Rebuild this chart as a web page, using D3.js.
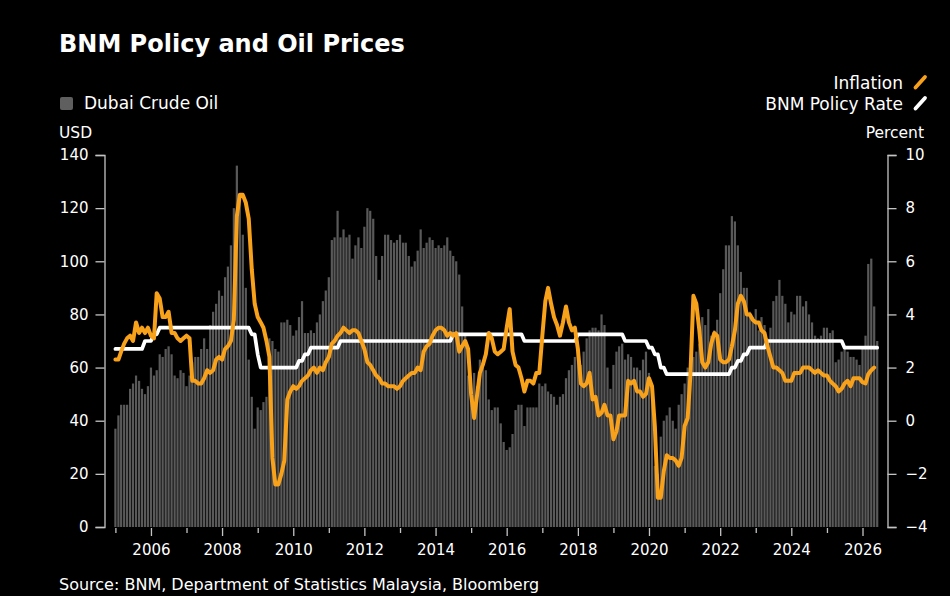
<!DOCTYPE html>
<html>
<head>
<meta charset="utf-8">
<script src="https://cdn.jsdelivr.net/npm/d3@7"></script>
<style>
  body { margin: 0; background: #000; }
  svg { display: block; font-family: 'DejaVu Sans', sans-serif; }
</style>
</head>
<body>
<script>
// Monthly series, first value is Jan 2005

// Dubai crude, USD per barrel (bars, left axis)
const oilPrice = [
  37, 42, 46, 46, 46, 52, 54, 57, 55, 52, 50, 53,          // 2005
  60, 57, 59, 65, 64, 67, 68, 65, 57, 56, 59, 58,          // 2006
  53, 57, 62, 64, 64, 67, 71, 67, 76, 81, 84, 89,          // 2007
  87, 94, 98, 106, 120, 136, 124, 110, 90, 63, 49, 37,     // 2008
  45, 44, 47, 49, 71, 70, 67, 66, 77, 77, 78, 76,          // 2009
  72, 74, 79, 85, 73, 73, 74, 73, 77, 80, 85, 89,          // 2010
  94, 108, 109, 119, 109, 112, 109, 110, 101, 106, 109, 105, // 2011
  113, 120, 119, 116, 102, 93, 102, 110, 110, 108, 107, 108, // 2012
  110, 107, 107, 102, 98, 100, 104, 112, 105, 107, 109, 108, // 2013
  105, 106, 105, 106, 109, 104, 102, 100, 95, 83, 72, 57,  // 2014
  48, 58, 53, 63, 61, 59, 48, 44, 45, 45, 39, 32,          // 2015
  29, 30, 35, 44, 46, 46, 38, 45, 45, 45, 45, 54,          // 2016
  53, 54, 51, 50, 49, 46, 49, 50, 56, 59, 61, 64,          // 2017
  67, 61, 66, 71, 74, 75, 75, 74, 80, 76, 60, 52,          // 2018
  61, 66, 68, 69, 63, 65, 64, 60, 60, 59, 63, 66,          // 2019
  58, 51, 23, 20, 34, 40, 42, 45, 40, 37, 46, 50,          // 2020
  54, 60, 63, 64, 66, 69, 79, 76, 82, 72, 74, 78,          // 2021
  88, 97, 106, 106, 117, 115, 106, 96, 90, 90, 81, 79,     // 2022
  82, 74, 79, 76, 71, 75, 85, 87, 93, 87, 84, 77,          // 2023
  81, 80, 87, 87, 83, 85, 80, 77, 72, 71, 72, 75,          // 2024
  75, 73, 74, 62, 63, 66, 68, 66, 64, 64, 63, 61,          // 2025
  68, 72, 99, 101, 83, 70                                  // 2026
];

// Malaysia CPI inflation, % y/y (orange line, right axis)
const inflation = [
  2.3, 2.3, 2.6, 2.9, 3.1, 3.2, 3.0, 3.7, 3.3, 3.5, 3.3, 3.5,       // 2005
  3.2, 3.1, 4.8, 4.6, 3.9, 3.9, 4.1, 3.3, 3.3, 3.1, 3.0, 3.1,       // 2006
  3.2, 3.1, 1.5, 1.5, 1.4, 1.4, 1.6, 1.9, 1.8, 1.9, 2.3, 2.4,       // 2007
  2.3, 2.7, 2.8, 3.0, 3.8, 7.7, 8.5, 8.5, 8.2, 7.6, 5.7, 4.4,       // 2008
  3.9, 3.7, 3.5, 3.0, 2.4, -1.4, -2.4, -2.4, -2.0, -1.5, 0.8, 1.1,  // 2009
  1.3, 1.2, 1.3, 1.5, 1.6, 1.7, 1.9, 2.0, 1.8, 2.0, 1.9, 2.2,       // 2010
  2.4, 2.9, 3.0, 3.2, 3.3, 3.5, 3.4, 3.3, 3.4, 3.4, 3.3, 3.0,       // 2011
  2.7, 2.2, 2.1, 1.9, 1.7, 1.6, 1.4, 1.4, 1.3, 1.3, 1.3, 1.2,       // 2012
  1.3, 1.5, 1.6, 1.7, 1.8, 1.8, 2.0, 1.9, 2.6, 2.8, 2.9, 3.2,       // 2013
  3.4, 3.5, 3.5, 3.4, 3.2, 3.3, 3.2, 3.3, 2.6, 2.8, 3.0, 2.7,       // 2014
  1.0, 0.1, 0.9, 1.8, 2.1, 2.5, 3.3, 3.1, 2.6, 2.5, 2.6, 2.7,       // 2015
  3.5, 4.2, 2.6, 2.1, 2.0, 1.6, 1.1, 1.5, 1.5, 1.4, 1.8, 1.8,       // 2016
  3.2, 4.5, 5.0, 4.4, 3.9, 3.6, 3.2, 3.7, 4.3, 3.7, 3.4, 3.5,       // 2017
  2.7, 1.4, 1.3, 1.4, 1.8, 0.8, 0.9, 0.2, 0.3, 0.6, 0.2, 0.2,       // 2018
  -0.7, -0.4, 0.2, 0.2, 0.2, 1.5, 1.4, 1.5, 1.1, 1.1, 0.9, 1.0,     // 2019
  1.6, 1.3, -0.2, -2.9, -2.9, -1.9, -1.3, -1.4, -1.4, -1.5, -1.7, -1.4, // 2020
  -0.2, 0.1, 1.7, 4.7, 4.4, 3.4, 2.2, 2.0, 2.2, 2.9, 3.3, 3.2,      // 2021
  2.3, 2.2, 2.2, 2.3, 2.8, 3.4, 4.4, 4.7, 4.5, 4.0, 4.0, 3.8,       // 2022
  3.7, 3.7, 3.4, 3.3, 2.8, 2.4, 2.0, 2.0, 1.9, 1.8, 1.5, 1.5,       // 2023
  1.5, 1.8, 1.8, 1.8, 2.0, 2.0, 2.0, 1.9, 1.8, 1.9, 1.8, 1.7,       // 2024
  1.7, 1.5, 1.4, 1.3, 1.1, 1.2, 1.4, 1.5, 1.3, 1.6, 1.6, 1.6,       // 2025
  1.45, 1.4, 1.75, 1.9, 2.0                                          // 2026
];

// BNM overnight policy rate, % (white line, right axis)
const policyRate = [
  2.7, 2.7, 2.7, 2.7, 2.7, 2.7, 2.7, 2.7, 2.7, 2.7, 3.0, 3.0,                    // 2005
  3.0, 3.25, 3.25, 3.5, 3.5, 3.5, 3.5, 3.5, 3.5, 3.5, 3.5, 3.5,                  // 2006
  3.5, 3.5, 3.5, 3.5, 3.5, 3.5, 3.5, 3.5, 3.5, 3.5, 3.5, 3.5,                    // 2007
  3.5, 3.5, 3.5, 3.5, 3.5, 3.5, 3.5, 3.5, 3.5, 3.5, 3.25, 3.25,                  // 2008
  2.5, 2.0, 2.0, 2.0, 2.0, 2.0, 2.0, 2.0, 2.0, 2.0, 2.0, 2.0,                    // 2009
  2.0, 2.0, 2.25, 2.25, 2.5, 2.5, 2.75, 2.75, 2.75, 2.75, 2.75, 2.75,            // 2010
  2.75, 2.75, 2.75, 2.75, 3.0, 3.0, 3.0, 3.0, 3.0, 3.0, 3.0, 3.0,                // 2011
  3.0, 3.0, 3.0, 3.0, 3.0, 3.0, 3.0, 3.0, 3.0, 3.0, 3.0, 3.0,                    // 2012
  3.0, 3.0, 3.0, 3.0, 3.0, 3.0, 3.0, 3.0, 3.0, 3.0, 3.0, 3.0,                    // 2013
  3.0, 3.0, 3.0, 3.0, 3.0, 3.0, 3.25, 3.25, 3.25, 3.25, 3.25, 3.25,              // 2014
  3.25, 3.25, 3.25, 3.25, 3.25, 3.25, 3.25, 3.25, 3.25, 3.25, 3.25, 3.25,        // 2015
  3.25, 3.25, 3.25, 3.25, 3.25, 3.25, 3.0, 3.0, 3.0, 3.0, 3.0, 3.0,              // 2016
  3.0, 3.0, 3.0, 3.0, 3.0, 3.0, 3.0, 3.0, 3.0, 3.0, 3.0, 3.0,                    // 2017
  3.25, 3.25, 3.25, 3.25, 3.25, 3.25, 3.25, 3.25, 3.25, 3.25, 3.25, 3.25,        // 2018
  3.25, 3.25, 3.25, 3.25, 3.0, 3.0, 3.0, 3.0, 3.0, 3.0, 3.0, 3.0,                // 2019
  2.75, 2.75, 2.5, 2.5, 2.0, 2.0, 1.75, 1.75, 1.75, 1.75, 1.75, 1.75,            // 2020
  1.75, 1.75, 1.75, 1.75, 1.75, 1.75, 1.75, 1.75, 1.75, 1.75, 1.75, 1.75,        // 2021
  1.75, 1.75, 1.75, 1.75, 2.0, 2.0, 2.25, 2.25, 2.5, 2.5, 2.75, 2.75,            // 2022
  2.75, 2.75, 2.75, 2.75, 3.0, 3.0, 3.0, 3.0, 3.0, 3.0, 3.0, 3.0,                // 2023
  3.0, 3.0, 3.0, 3.0, 3.0, 3.0, 3.0, 3.0, 3.0, 3.0, 3.0, 3.0,                    // 2024
  3.0, 3.0, 3.0, 3.0, 3.0, 3.0, 2.75, 2.75, 2.75, 2.75, 2.75, 2.75,              // 2025
  2.75, 2.75, 2.75, 2.75, 2.75, 2.75                                             // 2026
];

const oilTicks = [0, 20, 40, 60, 80, 100, 120, 140];
const pctTicks = [-4, -2, 0, 2, 4, 6, 8, 10];
const yearTicks = d3.range(2005, 2027);

// Layout
const width = 950;
const height = 596;
const plot = { left: 104.5, right: 887.5, top: 155, bottom: 527 };

const orange = '#f8a11b';
const barGrey = '#595959';
const axisGrey = '#c4c4c4';

const startMonth = new Date(2005, 0, 1);
const month = (i) => d3.timeMonth.offset(startMonth, i);

// Scales
const x = d3
  .scaleTime()
  .domain([new Date(2005, 0, 1), new Date(2026, 0, 1)])
  .range([115.4, 862.5]);

const yOil = d3.scaleLinear().domain([0, 140]).range([plot.bottom, plot.top]);
const yPct = d3.scaleLinear().domain([-4, 10]).range([plot.bottom, plot.top]);

const svg = d3
  .select('body')
  .append('svg')
  .attr('width', width)
  .attr('height', height);

svg.append('rect').attr('width', width).attr('height', height).attr('fill', '#000');

// Title
svg
  .append('text')
  .attr('x', 59)
  .attr('y', 52)
  .attr('fill', '#fff')
  .attr('font-size', 24)
  .attr('font-weight', 'bold')
  .text('BNM Policy and Oil Prices');

// Left legend
svg
  .append('rect')
  .attr('x', 60)
  .attr('y', 97)
  .attr('width', 13)
  .attr('height', 13)
  .attr('rx', 2)
  .attr('fill', '#5f5f5f');

svg
  .append('text')
  .attr('x', 84)
  .attr('y', 109)
  .attr('fill', '#fff')
  .attr('font-size', 17)
  .text('Dubai Crude Oil');

// Right legend
const legendRight = [
  { label: 'Inflation', color: orange, y: 89 },
  { label: 'BNM Policy Rate', color: '#fff', y: 110 },
];

const lg = svg.append('g').selectAll('g').data(legendRight).join('g');

lg.append('text')
  .attr('x', 903)
  .attr('y', (d) => d.y)
  .attr('text-anchor', 'end')
  .attr('fill', '#fff')
  .attr('font-size', 17)
  .text((d) => d.label);

lg.append('line')
  .attr('x1', 915.5)
  .attr('x2', 925)
  .attr('y1', (d) => d.y - 1.5)
  .attr('y2', (d) => d.y - 12)
  .attr('stroke', (d) => d.color)
  .attr('stroke-width', 3.8)
  .attr('stroke-linecap', 'round');

// Axis unit labels
svg
  .append('text')
  .attr('x', 59)
  .attr('y', 138)
  .attr('fill', '#fff')
  .attr('font-size', 15.5)
  .text('USD');

svg
  .append('text')
  .attr('x', 924)
  .attr('y', 138)
  .attr('text-anchor', 'end')
  .attr('fill', '#fff')
  .attr('font-size', 15.5)
  .text('Percent');

// Oil bars
svg
  .append('g')
  .attr('fill', barGrey)
  .selectAll('rect')
  .data(oilPrice)
  .join('rect')
  .attr('x', (d, i) => x(month(i)) - 1.1)
  .attr('width', 2.2)
  .attr('y', (d) => yOil(d))
  .attr('height', (d) => yOil(0) - yOil(d));

// Axes
const styleAxis = (g) =>
  g
    .attr('font-family', null)
    .attr('font-size', 15)
    .call((g) => g.selectAll('path, line').attr('stroke', axisGrey).attr('stroke-width', 1.3))
    .call((g) => g.selectAll('text').attr('fill', '#fff'));

svg
  .append('g')
  .attr('transform', `translate(${plot.left},0)`)
  .call(d3.axisLeft(yOil).tickValues(oilTicks).tickSize(9).tickPadding(7))
  .call(styleAxis);

svg
  .append('g')
  .attr('transform', `translate(${plot.right},0)`)
  .call(d3.axisRight(yPct).tickValues(pctTicks).tickSize(9).tickPadding(9))
  .call(styleAxis);

svg
  .append('g')
  .attr('transform', `translate(0,${plot.bottom + 1})`)
  .call(
    d3
      .axisBottom(x)
      .tickValues(yearTicks.map((yr) => new Date(yr, 0, 1)))
      .tickSize(8)
      .tickPadding(8)
      .tickFormat((d) => (d.getFullYear() % 2 === 0 ? d.getFullYear() : ''))
  )
  .call(styleAxis)
  .call((g) => g.select('.domain').remove())
  .call((g) =>
    g
      .selectAll('.tick line')
      .filter((d) => d.getFullYear() % 2 === 1)
      .attr('y2', 5)
  );

// Lines
const line = d3
  .line()
  .x((d, i) => x(month(i)))
  .y((d) => yPct(d));

svg
  .append('path')
  .datum(policyRate)
  .attr('fill', 'none')
  .attr('stroke', '#fff')
  .attr('stroke-width', 3.7)
  .attr('stroke-linejoin', 'round')
  .attr('stroke-linecap', 'round')
  .attr('d', line);

svg
  .append('path')
  .datum(inflation)
  .attr('fill', 'none')
  .attr('stroke', orange)
  .attr('stroke-width', 4)
  .attr('stroke-linejoin', 'round')
  .attr('stroke-linecap', 'round')
  .attr('d', line);

// Source
svg
  .append('text')
  .attr('x', 59)
  .attr('y', 590)
  .attr('fill', '#fff')
  .attr('font-size', 16)
  .text('Source: BNM, Department of Statistics Malaysia, Bloomberg');
</script>
</body>
</html>
